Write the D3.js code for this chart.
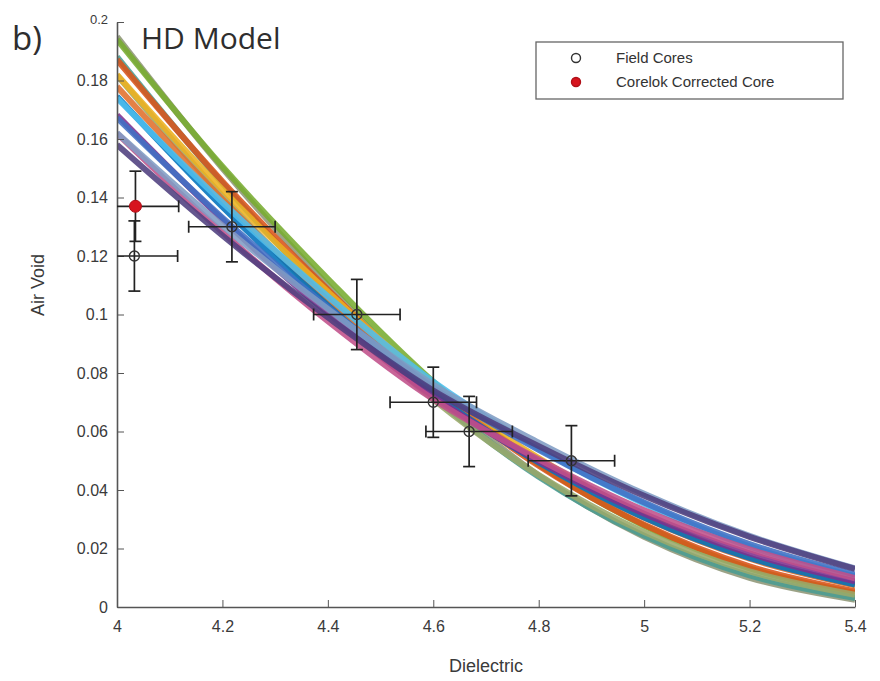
<!DOCTYPE html>
<html>
<head>
<meta charset="utf-8">
<script src="https://cdn.jsdelivr.net/npm/d3@7"></script>
<style>
  body { margin: 0; background: #fff; }
  svg { display: block; }
</style>
</head>
<body>
<div id="chart"></div>
<script>
// Dielectric positions where each model curve was read
const dielectric = [4.0, 4.2, 4.4, 4.6, 4.8, 5.0, 5.2, 5.4];

// Model realisations (air void at each dielectric value), steepest first
const modelCurves = [
  [0.195, 0.150, 0.110, 0.074, 0.045, 0.024, 0.010, 0.0025],
  [0.194, 0.1506, 0.1122, 0.077, 0.0488, 0.0278, 0.0132, 0.0048],
  [0.1881, 0.1449, 0.1063, 0.072, 0.0445, 0.0244, 0.0108, 0.0031],
  [0.1871, 0.1455, 0.1085, 0.075, 0.0483, 0.0281, 0.0139, 0.0054],
  [0.1818, 0.1405, 0.1036, 0.071, 0.0451, 0.0256, 0.0122, 0.0042],
  [0.182, 0.1427, 0.1078, 0.076, 0.0509, 0.0312, 0.0168, 0.0075],
  [0.1779, 0.1394, 0.1049, 0.074, 0.0496, 0.0305, 0.0165, 0.0074],
  [0.1745, 0.1368, 0.1031, 0.073, 0.0494, 0.0306, 0.0168, 0.0077],
  [0.174, 0.1383, 0.1062, 0.077, 0.0542, 0.0353, 0.0207, 0.0105],
  [0.1682, 0.1325, 0.1004, 0.072, 0.0499, 0.0319, 0.0183, 0.0088],
  [0.1672, 0.1331, 0.1025, 0.075, 0.0537, 0.0357, 0.0215, 0.0111],
  [0.1619, 0.1281, 0.0977, 0.071, 0.0505, 0.0331, 0.0197, 0.0099],
  [0.1621, 0.1304, 0.1019, 0.076, 0.0562, 0.0387, 0.0243, 0.0132],
  [0.158, 0.127, 0.099, 0.074, 0.055, 0.038, 0.024, 0.013]
];
const curveColors = ["#8e9676", "#77ac30", "#4a9c92", "#d95319", "#9aa86a", "#edb120",
                     "#e0702c", "#0072bd", "#4dbeee", "#7e2f8e", "#3f6fc4", "#c0508a",
                     "#7f9cc4", "#4e3f7e"];

// Field cores with error bars
const coreDielectric = [4.033, 4.218, 4.455, 4.600, 4.668, 4.862];
const coreAirVoid    = [0.120, 0.130, 0.100, 0.070, 0.060, 0.050];
const errDielectric = 0.082;
const errAirVoid = 0.012;

// Corelok corrected core
const corelokDielectric = [4.035];
const corelokAirVoid = [0.137];

const xTicks = [4, 4.2, 4.4, 4.6, 4.8, 5, 5.2, 5.4];
const yTicks = [0, 0.02, 0.04, 0.06, 0.08, 0.1, 0.12, 0.14, 0.16, 0.18, 0.2];

const W = 880, H = 681;
const margin = {top: 22, right: 25, bottom: 74, left: 117},
    width = W - margin.left - margin.right,
    height = H - margin.top - margin.bottom;

const x = d3.scaleLinear().domain([4, 5.4]).range([0, width]);
const y = d3.scaleLinear().domain([0, 0.2]).range([height, 0]);

const svg = d3.select("#chart").append("svg")
    .attr("width", W).attr("height", H);

const g = svg.append("g")
    .attr("transform", "translate(" + margin.left + "," + margin.top + ")");

g.append("clipPath").attr("id", "clip")
  .append("rect").attr("width", width).attr("height", height);

// model curves
const line = d3.line()
    .x((d, i) => x(dielectric[i]))
    .y(d => y(d))
    .curve(d3.curveCatmullRom);

g.append("g").attr("clip-path", "url(#clip)")
  .selectAll("path")
  .data(modelCurves)
  .join("path")
    .attr("d", line)
    .attr("fill", "none")
    .attr("stroke", (d, i) => curveColors[i % curveColors.length])
    .attr("stroke-width", 6)
    .attr("stroke-opacity", 0.88);

// axes
const axisColor = "#555";
const font = "'Liberation Sans', Arial, sans-serif";
const xAxis = g.append("g")
    .attr("transform", "translate(0," + height + ")")
    .call(d3.axisBottom(x).tickValues(xTicks).tickFormat(d3.format("")).tickSizeInner(-7).tickSizeOuter(0).tickPadding(14));
const yAxis = g.append("g")
    .call(d3.axisLeft(y).tickValues(yTicks).tickFormat(d => d === 0 ? "0" : d3.format("")(+d.toFixed(2))).tickSizeInner(-7).tickSizeOuter(0).tickPadding(9));

[xAxis, yAxis].forEach(a => {
  a.select(".domain").attr("stroke", axisColor).attr("stroke-width", 1.6);
  a.selectAll(".tick line").attr("stroke", axisColor);
  a.selectAll(".tick text")
    .attr("fill", "#3a3a3a")
    .style("font-family", font)
    .style("font-size", "16px");
});
yAxis.selectAll(".tick").filter(d => d === 0.2).select("text").style("font-size", "13px").attr("dy", "0.1em");

// error bars
const eb = g.append("g").attr("stroke", "#222").attr("stroke-width", 1.7).attr("fill", "none");
const cap = 6;
const errPts = coreDielectric.map((d, i) => ({x: d, y: coreAirVoid[i]}))
  .concat(corelokDielectric.map((d, i) => ({x: d, y: corelokAirVoid[i]})));

errPts.forEach(p => {
  const cx = x(p.x), cy = y(p.y);
  const x0 = Math.max(0, x(p.x - errDielectric)), x1 = x(p.x + errDielectric);
  const y0 = y(p.y - errAirVoid), y1 = y(p.y + errAirVoid);
  eb.append("line").attr("x1", x0).attr("x2", x1).attr("y1", cy).attr("y2", cy);
  if (x(p.x - errDielectric) >= 0)
    eb.append("line").attr("x1", x0).attr("x2", x0).attr("y1", cy - cap).attr("y2", cy + cap);
  eb.append("line").attr("x1", x1).attr("x2", x1).attr("y1", cy - cap).attr("y2", cy + cap);
  eb.append("line").attr("x1", cx).attr("x2", cx).attr("y1", y0).attr("y2", y1);
  eb.append("line").attr("x1", cx - cap).attr("x2", cx + cap).attr("y1", y0).attr("y2", y0);
  eb.append("line").attr("x1", cx - cap).attr("x2", cx + cap).attr("y1", y1).attr("y2", y1);
});

// markers
g.selectAll(".core")
  .data(coreDielectric)
  .join("circle")
    .attr("class", "core")
    .attr("cx", d => x(d))
    .attr("cy", (d, i) => y(coreAirVoid[i]))
    .attr("r", 5)
    .attr("fill", "none")
    .attr("stroke", "#333")
    .attr("stroke-width", 1.4);

g.selectAll(".corelok")
  .data(corelokDielectric)
  .join("circle")
    .attr("class", "corelok")
    .attr("cx", d => x(d))
    .attr("cy", (d, i) => y(corelokAirVoid[i]))
    .attr("r", 6)
    .attr("fill", "#d7141e")
    .attr("stroke", "#b01018");

// axis labels
svg.append("text")
    .attr("x", margin.left + width / 2).attr("y", 672)
    .attr("text-anchor", "middle")
    .attr("fill", "#3a3a3a")
    .style("font-family", font)
    .style("font-size", "18px")
    .text("Dielectric");

svg.append("text")
    .attr("transform", "translate(44,285) rotate(-90)")
    .attr("text-anchor", "middle")
    .attr("fill", "#3a3a3a")
    .style("font-family", font)
    .style("font-size", "18px")
    .text("Air Void");

// panel label and title
svg.append("text")
    .attr("x", 12).attr("y", 50)
    .attr("fill", "#2e2e2e")
    .style("font-family", "'Open Sans', sans-serif")
    .style("font-size", "33px")
    .text("b)");

svg.append("text")
    .attr("x", 141).attr("y", 49)
    .attr("fill", "#2e2e2e")
    .style("font-family", "'Open Sans', sans-serif")
    .style("font-size", "30px")
    .text("HD Model");

// legend
const legend = svg.append("g").attr("transform", "translate(536,42)");
legend.append("rect")
    .attr("width", 307).attr("height", 57)
    .attr("fill", "#fff").attr("stroke", "#666").attr("stroke-width", 1.3);

const legendItems = [
  {label: "Field Cores", fill: "none", stroke: "#333", r: 4.5},
  {label: "Corelok Corrected Core", fill: "#d7141e", stroke: "#b01018", r: 4.5}
];
legendItems.forEach((d, i) => {
  const ly = 16 + i * 24;
  legend.append("circle")
    .attr("cx", 40).attr("cy", ly).attr("r", d.r)
    .attr("fill", d.fill).attr("stroke", d.stroke).attr("stroke-width", 1.4);
  legend.append("text")
    .attr("x", 80).attr("y", ly).attr("dy", "0.35em")
    .attr("fill", "#333")
    .style("font-family", font)
    .style("font-size", "15px")
    .text(d.label);
});
</script>
</body>
</html>
